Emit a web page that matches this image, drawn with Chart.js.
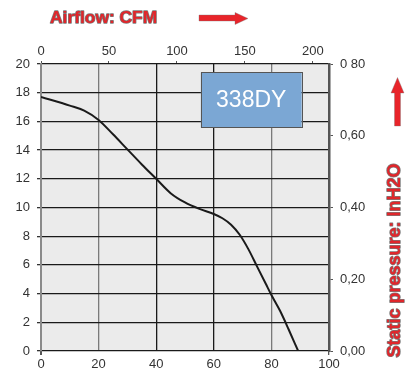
<!DOCTYPE html>
<html>
<head>
<meta charset="utf-8">
<script src="https://cdn.jsdelivr.net/npm/chart.js@4.4.0/dist/chart.umd.min.js"></script>
<style>
html,body{margin:0;padding:0;background:#fff;}
#wrap{width:406px;height:374px;position:relative;}
</style>
</head>
<body>
<div id="wrap"><canvas id="c" width="406" height="374"></canvas></div>
<script>
// ---- data ----
const airflowPct = [0, 10, 15, 20, 25, 30, 35, 40, 45, 50, 55, 60, 63, 66, 69, 72, 75, 78, 80, 83, 86, 89.3];
const pressureMm = [17.7, 17.1, 16.75, 16.1, 15.1, 14.05, 13.0, 12.0, 11.0, 10.35, 9.9, 9.55, 9.25, 8.8, 8.1, 7.1, 5.9, 4.7, 3.9, 2.8, 1.5, 0];
const bottomTicks = [0, 20, 40, 60, 80, 100];
const leftTicks = [0, 2, 4, 6, 8, 10, 12, 14, 16, 18, 20];
const topTicks = [0, 50, 100, 150, 200];
const topMaxCFM = 211.8;
const rightTickValues = [0, 0.2, 0.4, 0.6, 0.8];
const rightTickLabels = ['0,00', '0,20', '0,40', '0,60', '0 80'];
const modelName = '338DY';
const titleText = 'Airflow: CFM';
const sideText = 'Static pressure: InH2O';

const FONT = '"Liberation Sans", Arial, sans-serif';
const tickFont = {family: FONT, size: 13};
const tickColor = '#333';

const points = airflowPct.map((x, i) => ({x: x, y: pressureMm[i]}));

const vGridColor = v => {
  if (v === 0) return '#8a8a8a';
  if (v === 20 || v === 80) return '#7a7a7a';
  if (v === 100) return '#555';
  return '#1a1a1a';
};

const decor = {
  id: 'decor',
  beforeDraw(chart) {
    const ctx = chart.ctx, a = chart.chartArea;
    ctx.save();
    ctx.fillStyle = '#fff';
    ctx.fillRect(0, 0, chart.width, chart.height);
    ctx.fillStyle = '#ebebeb';
    ctx.fillRect(a.left, a.top, a.right - a.left, a.bottom - a.top);
    ctx.restore();
  },
  afterDatasetsDraw(chart) {
    const ctx = chart.ctx;
    const xs = chart.scales.x, ys = chart.scales.y;
    // model box
    const x0 = xs.getPixelForValue(55.5), x1 = xs.getPixelForValue(90.5);
    const y0 = ys.getPixelForValue(19.42), y1 = ys.getPixelForValue(15.56);
    ctx.save();
    ctx.fillStyle = '#7ba7d4';
    ctx.fillRect(x0, y0, x1 - x0, y1 - y0);
    ctx.strokeStyle = '#555';
    ctx.lineWidth = 1;
    ctx.strokeRect(Math.round(x0) + 0.5, Math.round(y0) + 0.5, Math.round(x1 - x0), Math.round(y1 - y0));
    ctx.fillStyle = '#fff';
    ctx.font = '23px ' + FONT;
    ctx.textAlign = 'center';
    ctx.textBaseline = 'middle';
    ctx.fillText(modelName, (x0 + x1) / 2, (y0 + y1) / 2 + 1);
    ctx.restore();
  },
  afterDraw(chart) {
    const ctx = chart.ctx;
    ctx.save();
    // title
    ctx.font = 'bold 17.4px ' + FONT;
    ctx.textAlign = 'left';
    ctx.textBaseline = 'middle';
    ctx.lineJoin = 'round';
    ctx.strokeStyle = 'rgba(90,90,90,0.8)';
    ctx.lineWidth = 1.4;
    ctx.strokeText(titleText, 50, 18);
    ctx.fillStyle = '#e0262b';
    ctx.fillText(titleText, 50, 18);
    // right arrow
    ctx.fillStyle = '#e8242a';
    ctx.beginPath();
    ctx.moveTo(199, 15);
    ctx.lineTo(235, 15);
    ctx.lineTo(235, 12.5);
    ctx.lineTo(248, 18.5);
    ctx.lineTo(235, 24.5);
    ctx.lineTo(235, 21);
    ctx.lineTo(199, 21);
    ctx.closePath();
    ctx.fill();
    ctx.strokeStyle = 'rgba(120,120,120,0.6)';
    ctx.lineWidth = 0.6;
    ctx.stroke();
    // up arrow
    ctx.beginPath();
    ctx.moveTo(394.5, 126);
    ctx.lineTo(394.5, 93);
    ctx.lineTo(391, 93);
    ctx.lineTo(397.5, 77.5);
    ctx.lineTo(404, 93);
    ctx.lineTo(400.5, 93);
    ctx.lineTo(400.5, 126);
    ctx.closePath();
    ctx.fillStyle = '#e8242a';
    ctx.fill();
    ctx.stroke();
    // side text
    ctx.translate(395.5, 260.5);
    ctx.rotate(-Math.PI / 2);
    ctx.font = 'bold 18px ' + FONT;
    ctx.textAlign = 'center';
    ctx.textBaseline = 'middle';
    ctx.strokeStyle = 'rgba(90,90,90,0.8)';
    ctx.lineWidth = 1.4;
    ctx.strokeText(sideText, 0, 0);
    ctx.fillStyle = '#e0262b';
    ctx.fillText(sideText, 0, 0);
    ctx.restore();
  }
};

new Chart(document.getElementById('c'), {
  type: 'line',
  data: {
    datasets: [{
      data: points,
      borderColor: '#1a1a1a',
      borderWidth: 2,
      pointRadius: 0,
      tension: 0.35,
      cubicInterpolationMode: 'monotone',
      fill: false,
      xAxisID: 'x',
      yAxisID: 'y'
    }]
  },
  options: {
    responsive: false,
    animation: false,
    devicePixelRatio: 1,
    layout: {padding: {top: 30, left: 0, right: 0, bottom: 0}},
    plugins: {legend: {display: false}, tooltip: {enabled: false}},
    scales: {
      x: {
        type: 'linear', position: 'bottom', min: 0, max: 100,
        afterBuildTicks: s => { s.ticks = bottomTicks.map(v => ({value: v})); },
        afterFit: s => { s.height = 23; },
        ticks: {font: tickFont, color: tickColor, padding: 2, maxRotation: 0, autoSkip: false},
        grid: {
          drawOnChartArea: true, tickLength: 4,
          color: c => vGridColor(c.tick.value),
          lineWidth: c => (c.tick.value === 0 ? 2 : 1.3),
          tickColor: c => (c.tick.value === 0 || c.tick.value === 100 ? '#555' : 'rgba(0,0,0,0)')
        },
        border: {display: false}
      },
      x2: {
        type: 'linear', position: 'top', min: 0, max: topMaxCFM,
        afterBuildTicks: s => { s.ticks = topTicks.map(v => ({value: v})); },
        afterFit: s => { s.height = 34; },
        ticks: {font: tickFont, color: tickColor, padding: 2, maxRotation: 0, autoSkip: false},
        grid: {drawOnChartArea: false, tickLength: 3, color: '#555', lineWidth: 1},
        border: {display: false}
      },
      y: {
        type: 'linear', position: 'left', min: 0, max: 20,
        afterBuildTicks: s => { s.ticks = leftTicks.map(v => ({value: v})); },
        afterFit: s => { s.width = 41; },
        ticks: {font: tickFont, color: tickColor, padding: 7, autoSkip: false},
        grid: {drawOnChartArea: true, tickLength: 4, color: '#1a1a1a', lineWidth: 1.3, tickColor: '#333'},
        border: {display: true, color: '#8a8a8a', width: 2}
      },
      y2: {
        type: 'linear', position: 'right', min: 0, max: 0.8,
        afterBuildTicks: s => { s.ticks = rightTickValues.map(v => ({value: v})); },
        afterFit: s => { s.width = 77; },
        ticks: {
          font: tickFont, color: tickColor, padding: 7, autoSkip: false,
          callback: (v, i) => rightTickLabels[i]
        },
        grid: {drawOnChartArea: false, tickLength: 4, color: '#555', lineWidth: 1},
        border: {display: true, color: '#555', width: 2.5}
      }
    }
  },
  plugins: [decor]
});
</script>
</body>
</html>
